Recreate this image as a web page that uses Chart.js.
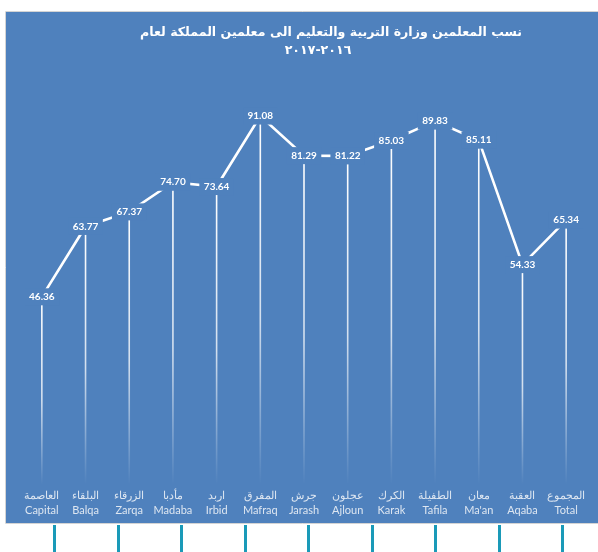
<!DOCTYPE html>
<html>
<head>
<meta charset="utf-8">
<script src="https://cdn.jsdelivr.net/npm/chart.js@4.4.0/dist/chart.umd.min.js"></script>
<style>
  html, body { margin: 0; padding: 0; background: #fff; }
  #wrap { width: 598px; height: 552px; position: relative; }
</style>
</head>
<body>
<div id="wrap"><canvas id="grafico" width="598" height="552"></canvas></div>
<script>
// dados
const arabicNames = ['العاصمة', 'البلقاء', 'الزرقاء', 'مأدبا', 'اربد', 'المفرق', 'جرش', 'عجلون', 'الكرك', 'الطفيلة', 'معان', 'العقبة', 'المجموع'];
const englishNames = ['Capital', 'Balqa', 'Zarqa', 'Madaba', 'Irbid', 'Mafraq', 'Jarash', 'Ajloun', 'Karak', 'Tafila', "Ma'an", 'Aqaba', 'Total'];
const ratios = [46.36, 63.77, 67.37, 74.70, 73.64, 91.08, 81.29, 81.22, 85.03, 89.83, 85.11, 54.33, 65.34];
const titleLines = ['نسب المعلمين وزارة التربية والتعليم الى معلمين المملكة لعام', '٢٠١٦-٢٠١٧'];

const blue = '#4F81BD';

// fundo azul, titulo e marcas de baixo
const fundo = {
    id: 'fundo',
    beforeDraw(chart) {
        const ctx = chart.ctx;
        ctx.save();
        ctx.fillStyle = blue;
        ctx.fillRect(6, 12, 600, 511);
        ctx.strokeStyle = '#D4D4D4';
        ctx.lineWidth = 1;
        ctx.beginPath();
        ctx.moveTo(605, 11.5);
        ctx.lineTo(5.5, 11.5);
        ctx.lineTo(5.5, 523.5);
        ctx.lineTo(605, 523.5);
        ctx.stroke();

        // titulo (um pouco deslocado para a direita como no original)
        ctx.fillStyle = '#FFFFFF';
        ctx.textAlign = 'center';
        ctx.textBaseline = 'middle';
        ctx.font = "bold 12.6px 'DejaVu Sans', sans-serif";
        ctx.fillText(titleLines[0], 331, 33);
        ctx.fillText(titleLines[1], 318, 51);
        ctx.restore();
    },
    afterDraw(chart) {
        const ctx = chart.ctx;
        ctx.save();
        ctx.fillStyle = '#1A9AB8';
        for (let i = 0; i < 9; i++) {
            ctx.fillRect(Math.round(53 + i * 63.5), 525, 3, 27);
        }
        ctx.restore();
    }
};

// linhas verticais ate o eixo
const dropLines = {
    id: 'dropLines',
    beforeDatasetsDraw(chart) {
        const ctx = chart.ctx;
        const bottom = chart.chartArea.bottom;
        ctx.save();
        chart.getDatasetMeta(0).data.forEach(function (pt) {
            const g = ctx.createLinearGradient(0, pt.y, 0, bottom);
            g.addColorStop(0, 'rgba(255,255,255,1)');
            g.addColorStop(0.55, 'rgba(255,255,255,0.75)');
            g.addColorStop(1, 'rgba(255,255,255,0)');
            ctx.strokeStyle = g;
            ctx.lineWidth = 1.6;
            ctx.beginPath();
            ctx.moveTo(pt.x, pt.y);
            ctx.lineTo(pt.x, bottom);
            ctx.stroke();
        });
        ctx.restore();
    }
};

// rotulos com fundo azul
const rotulos = {
    id: 'rotulos',
    afterDatasetsDraw(chart) {
        const ctx = chart.ctx;
        const values = chart.data.datasets[0].data;
        ctx.save();
        ctx.font = 'bold 10px Lato';
        ctx.textAlign = 'center';
        ctx.textBaseline = 'middle';
        chart.getDatasetMeta(0).data.forEach(function (pt, i) {
            const txt = values[i].toFixed(2);
            const w = ctx.measureText(txt).width;
            ctx.fillStyle = blue;
            ctx.fillRect(pt.x - w / 2 - 4.5, pt.y - 8.5, w + 9, 17);
            ctx.fillStyle = '#FFFFFF';
            ctx.fillText(txt, pt.x, pt.y);
        });
        ctx.restore();
    }
};

const config = {
    type: 'line',
    data: {
        labels: arabicNames.map((a, i) => [a, englishNames[i]]),
        datasets: [{
            data: ratios,
            borderColor: '#FFFFFF',
            borderWidth: 2.6,
            pointRadius: 0,
            tension: 0,
            fill: false
        }]
    },
    options: {
        responsive: false,
        animation: false,
        layout: { padding: { left: 20, right: 10, top: 80, bottom: 30 } },
        plugins: {
            legend: { display: false },
            tooltip: { enabled: false },
            title: { display: false }
        },
        scales: {
            x: {
                offset: true,
                grid: { display: false, drawTicks: false },
                border: { display: false },
                ticks: {
                    color: '#DDE6F1',
                    font: { family: 'Lato', size: 11, lineHeight: 1.4 },
                    padding: 3.5,
                    maxRotation: 0,
                    autoSkip: false
                }
            },
            y: {
                display: false,
                min: 0,
                max: 100
            }
        }
    },
    plugins: [fundo, dropLines, rotulos]
};

const myChart = new Chart(document.getElementById('grafico'), config);
</script>
</body>
</html>
